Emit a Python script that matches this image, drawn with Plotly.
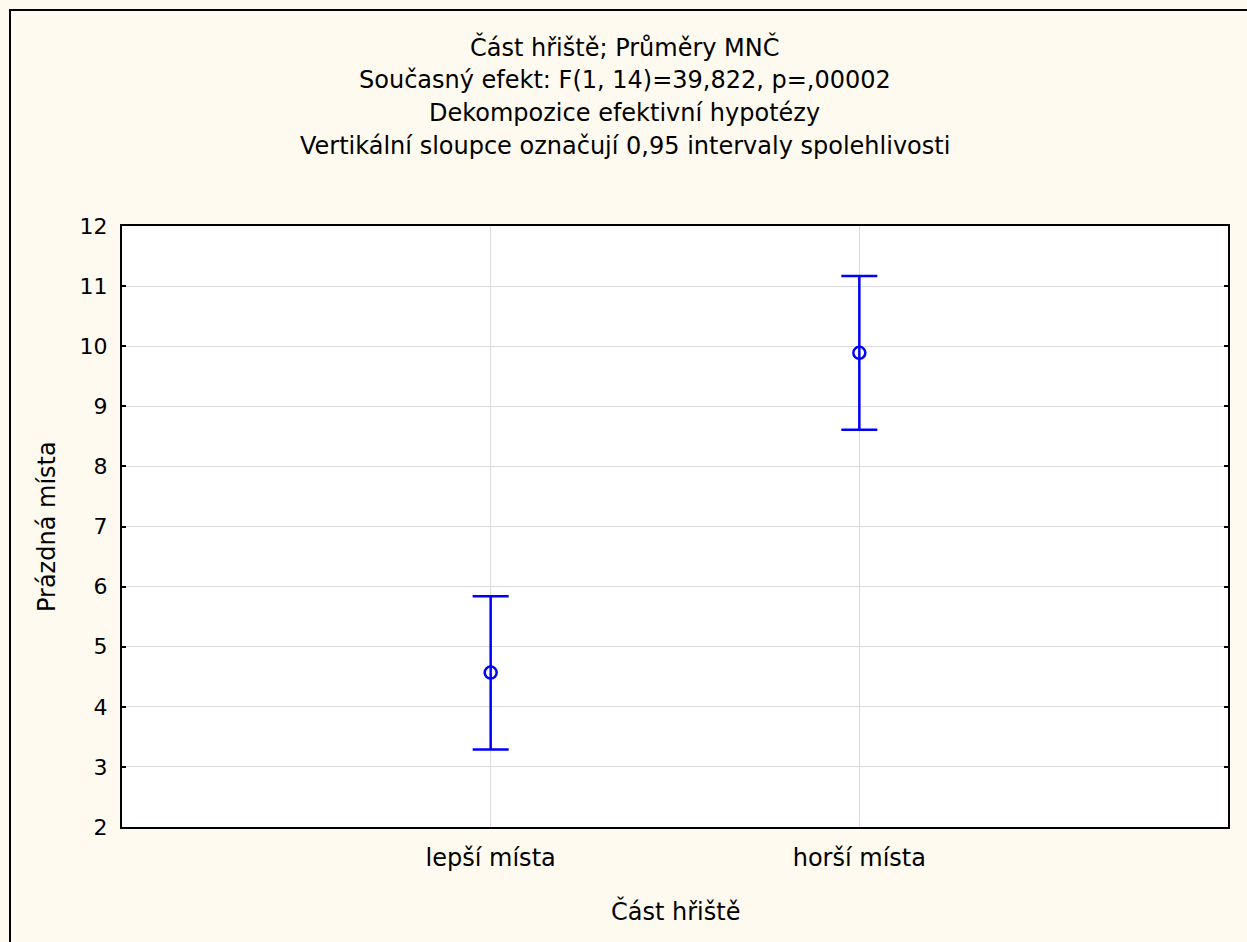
import plotly.graph_objects as go

categories = ["lepší místa", "horší místa"]
means = [4.57, 9.89]
ci_upper = [5.84, 11.17]
ci_lower = [3.29, 8.61]
y_ticks = [2, 3, 4, 5, 6, 7, 8, 9, 10, 11, 12]
title_lines = [
    "Část hřiště; Průměry MNČ",
    "Současný efekt: F(1, 14)=39,822, p=,00002",
    "Dekompozice efektivní hypotézy",
    "Vertikální sloupce označují 0,95 intervaly spolehlivosti",
]

# page geometry (body margin removed via post_script)
PW, PH = 1247, 942
PL, PR, PT, PB = 122, 1228, 226, 827   # plot area in page pixels
W, H = PW, PH
L, T = PL, PT
R = W - PR
B = H - PB
pw, ph = PR - PL, PB - PT

FONT = "DejaVu Sans, Verdana, sans-serif"
BLUE = "#0000FF"
TXT = 24

fig = go.Figure()
fig.add_trace(go.Scatter(
    x=categories, y=means, mode="markers",
    marker=dict(symbol="circle-open", size=12, color=BLUE, line=dict(width=2.5, color=BLUE)),
    error_y=dict(type="data", symmetric=False,
                 array=[u - m for u, m in zip(ci_upper, means)],
                 arrayminus=[m - l for m, l in zip(means, ci_lower)],
                 color=BLUE, thickness=2.5, width=18),
    showlegend=False,
))

def px_(x):
    return (x - PL) / pw

def py_(y):
    return (PB - y) / ph

annotations = []
for i, t in enumerate(title_lines):
    annotations.append(dict(text=t, x=px_(PW / 2 + 1), xref="paper", y=py_(47 + 33 * i), yref="paper",
                            xanchor="center", yanchor="middle", showarrow=False,
                            font=dict(family=FONT, size=TXT, color="black")))
annotations.append(dict(text="Prázdná místa", x=px_(47), xref="paper", y=py_(527), yref="paper",
                        xanchor="center", yanchor="middle", textangle=-90, showarrow=False,
                        font=dict(family=FONT, size=TXT, color="black")))
annotations.append(dict(text="Část hřiště", x=px_(675), xref="paper", y=py_(911), yref="paper",
                        xanchor="center", yanchor="middle", showarrow=False,
                        font=dict(family=FONT, size=TXT, color="black")))

fig.update_layout(
    width=W, height=H,
    margin=dict(l=L, r=R, t=T, b=B, pad=0),
    paper_bgcolor="#FFFAEF",
    plot_bgcolor="white",
    font=dict(family=FONT, size=22, color="black"),
    annotations=annotations,
    xaxis=dict(
        type="category", range=[-1, 2],
        showgrid=True, gridcolor="#DCDCDC", gridwidth=1,
        showline=True, linecolor="black", linewidth=2, mirror=True,
        ticks="", ticklabelstandoff=8,
        tickfont=dict(family=FONT, size=TXT),
        zeroline=False,
    ),
    yaxis=dict(
        range=[2, 12], tickvals=y_ticks,
        showgrid=True, gridcolor="#DCDCDC", gridwidth=1,
        showline=True, linecolor="black", linewidth=2, mirror="ticks",
        ticks="inside", ticklen=4, tickwidth=2, tickcolor="black",
        ticklabelstandoff=8,
        tickfont=dict(family=FONT, size=22),
        zeroline=False,
    ),
    shapes=[
        dict(type="line", xref="paper", yref="paper",
             x0=px_(10), x1=px_(PW + 30), y0=py_(10), y1=py_(10),
             line=dict(color="black", width=2)),
        dict(type="line", xref="paper", yref="paper",
             x0=px_(10), x1=px_(10), y0=py_(9), y1=py_(PH + 30),
             line=dict(color="black", width=2)),
    ],
)

fig.write_html(
    "out.html",
    config={"displayModeBar": False},
    post_script="document.body.style.margin='0';document.body.style.overflow='hidden';",
)
